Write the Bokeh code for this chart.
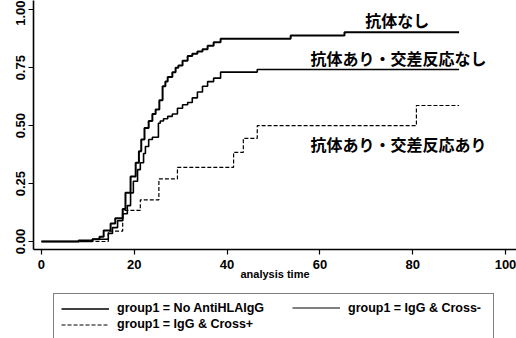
from bokeh.plotting import figure
from bokeh.layouts import column
from bokeh.models import Range1d, FixedTicker, PrintfTickFormatter, Legend, LegendItem
from bokeh.core.properties import value
from bokeh.embed import file_html
from bokeh.resources import INLINE

# ---- data ----
time_no = [0, 8, 11, 12.5, 13.4, 14.9, 15.9, 17.5, 18.1, 19.2, 20.3, 21.0, 21.5, 22.2,
           23.1, 23.9, 24.6, 25.4, 26.1, 26.7, 27.2, 28.2, 28.9, 29.5, 30.4, 31.5, 32.5,
           33.6, 34.7, 35.8, 37.1, 38.6, 53.7, 65.3, 90]
cum_no = [0, 0.004, 0.01, 0.02, 0.048, 0.078, 0.10, 0.14, 0.21, 0.28, 0.34, 0.39, 0.44, 0.49,
          0.52, 0.55, 0.57, 0.61, 0.67, 0.69, 0.71, 0.73, 0.75, 0.76, 0.78, 0.80, 0.81,
          0.82, 0.83, 0.845, 0.86, 0.875, 0.889, 0.903, 0.903]

time_neg = [0, 11, 14.4, 15.3, 16.4, 17.5, 18.5, 19.2, 19.8, 20.7, 21.3, 22.0, 22.4, 23.1,
            23.9, 25.2, 25.6, 26.3, 27.2, 28.2, 29.3, 30.4, 31.5, 32.5, 33.6, 34.7, 35.8,
            37.1, 38.6, 46.5, 90]
cum_neg = [0, 0.01, 0.035, 0.06, 0.09, 0.12, 0.155, 0.21, 0.26, 0.31, 0.34, 0.38, 0.41, 0.44,
           0.45, 0.51, 0.52, 0.53, 0.54, 0.55, 0.575, 0.59, 0.60, 0.62, 0.645, 0.67, 0.69,
           0.705, 0.731, 0.742, 0.742]

time_pos = [0, 14.4, 17.5, 21.3, 25.3, 29.3, 41.4, 43.5, 46.5, 80.8, 90]
cum_pos = [0, 0.045, 0.134, 0.18, 0.27, 0.32, 0.385, 0.445, 0.50, 0.587, 0.587]

x_ticks = [0, 20, 40, 60, 80, 100]
y_ticks = [0, 0.25, 0.5, 0.75, 1.0]
x_title = "analysis time"
legend_labels = ["group1 = No AntiHLAIgG", "group1 = IgG & Cross-", "group1 = IgG & Cross+"]
note_texts = ["抗体なし", "抗体あり・交差反応なし", "抗体あり・交差反応あり"]
note_x = [69.8, 58.0, 58.0]
note_y = [0.957, 0.79, 0.421]

# ---- main figure ----
p = figure(width=516, height=292, output_backend="svg", toolbar_location=None,
           x_range=Range1d(-1.72, 102.37), y_range=Range1d(-0.0345, 1.040),
           min_border_top=0, min_border_right=0, min_border_left=33, min_border_bottom=43,
           background_fill_color="white", border_fill_color="white")
p.outline_line_color = None
p.grid.visible = False

style_no = dict(line_color="black", line_width=2.0)
style_neg = dict(line_color="black", line_width=1.6)
style_pos = dict(line_color="black", line_width=1.2, line_dash="4 2")

p.step(time_no, cum_no, mode="after", **style_no)
p.step(time_neg, cum_neg, mode="after", **style_neg)
p.step(time_pos, cum_pos, mode="after", **style_pos)

p.text(x=note_x, y=note_y, text=note_texts, text_font=value("Noto Sans CJK JP"),
       text_font_style="bold", text_font_size="16px", text_baseline="middle",
       text_align="left", text_color="black")

for ax in (p.xaxis, p.yaxis):
    ax.axis_line_width = 1.6
    ax.axis_line_color = "black"
    ax.major_tick_in = 0
    ax.major_tick_out = 5
    ax.major_tick_line_width = 1.2
    ax.minor_tick_line_color = None
    ax.major_label_text_font = "Liberation Sans"
    ax.major_label_text_font_style = "bold"
    ax.major_label_text_font_size = "13px"
    ax.major_label_text_color = "black"

p.xaxis.ticker = FixedTicker(ticks=x_ticks)
p.yaxis.ticker = FixedTicker(ticks=y_ticks)
p.yaxis.formatter = PrintfTickFormatter(format="%.2f")
p.yaxis.major_label_orientation = "vertical"
p.yaxis.major_label_standoff = 3
p.xaxis.major_label_standoff = 5
p.xaxis.axis_label = x_title
p.xaxis.axis_label_text_font = "Liberation Sans"
p.xaxis.axis_label_text_font_style = "bold"
p.xaxis.axis_label_text_font_size = "11px"
p.xaxis.axis_label_text_color = "black"
p.xaxis.axis_label_standoff = -4

# ---- legend strip below the plot (its own renderers sit outside its view) ----
q = figure(width=516, height=46, output_backend="svg", toolbar_location=None,
           x_range=Range1d(1000, 1001), y_range=Range1d(1000, 1001),
           x_axis_location=None, y_axis_location=None,
           min_border=0, min_border_left=0, min_border_right=0,
           min_border_top=0, min_border_bottom=0,
           background_fill_color="white", border_fill_color="white")
q.outline_line_color = None
q.grid.visible = False

leg_no = dict(line_color="black", line_width=1.5)
leg_neg = dict(line_color="black", line_width=1.2)
leg_pos = dict(line_color="black", line_width=1.0, line_dash="4 2")
g_no = q.step(time_no, cum_no, mode="after", **leg_no)
g_neg = q.step(time_neg, cum_neg, mode="after", **leg_neg)
g_pos = q.step(time_pos, cum_pos, mode="after", **leg_pos)

common = dict(label_text_font="Liberation Sans", label_text_font_style="bold",
              label_text_font_size="12.5px", label_text_color="black",
              glyph_width=48, glyph_height=13, label_height=13, label_standoff=8,
              padding=7, spacing=2, margin=0)

leg1 = Legend(items=[LegendItem(label=legend_labels[0], renderers=[g_no]),
                     LegendItem(label=legend_labels[2], renderers=[g_pos])],
              location=(20, -1), label_width=369, border_line_color="black",
              border_line_width=1, background_fill_color="white", **common)
leg2 = Legend(items=[LegendItem(label=legend_labels[1], renderers=[g_neg])],
              location=(259, 23.4), border_line_color=None,
              background_fill_alpha=0, **common)
q.add_layout(leg1)
q.add_layout(leg2)

layout = column(p, q, spacing=0)
open("out.html", "w").write(file_html(layout, INLINE))
